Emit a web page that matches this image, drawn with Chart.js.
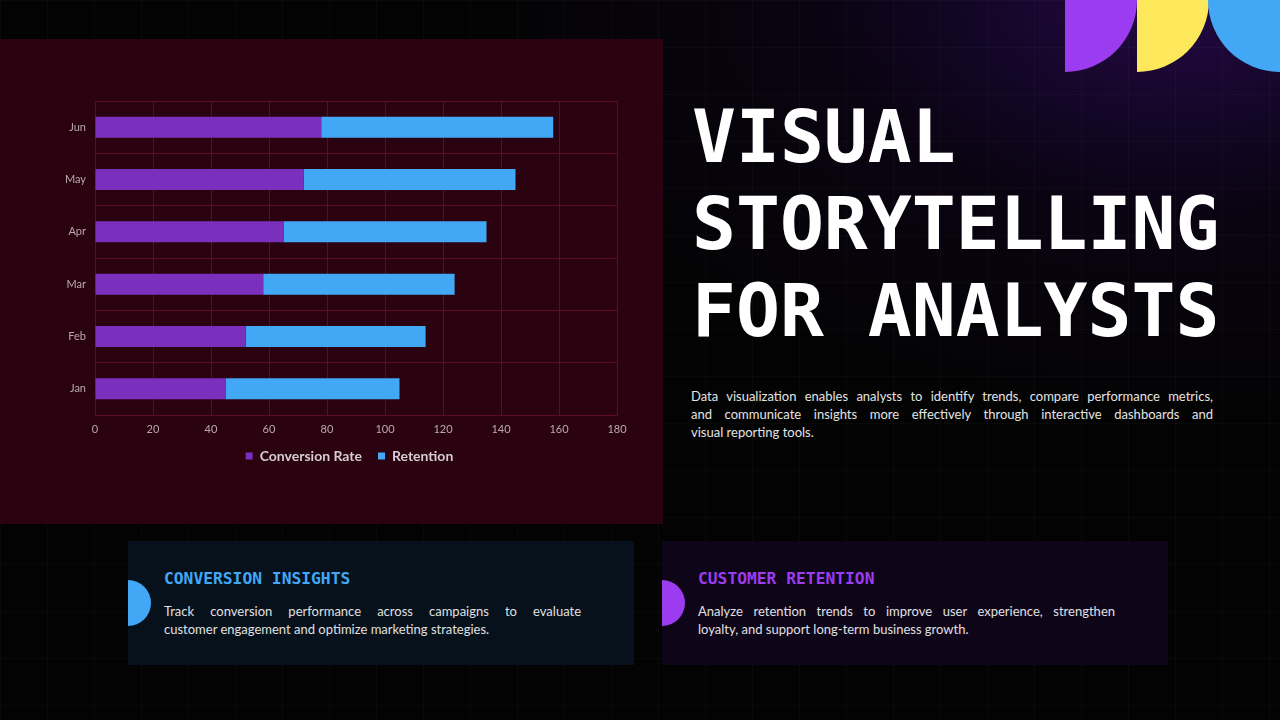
<!DOCTYPE html>
<html>
<head>
<meta charset="utf-8">
<script src="https://cdn.jsdelivr.net/npm/chart.js@4.4.0/dist/chart.umd.min.js"></script>
<style>
  html, body { margin: 0; padding: 0; }
  body {
    width: 1280px; height: 720px; overflow: hidden; position: relative;
    background:
      radial-gradient(ellipse 700px 420px at 1180px 0px, rgba(40, 10, 80, 0.85), rgba(20, 5, 40, 0.4) 50%, rgba(0,0,0,0) 100%),
      #030303;
    font-family: Lato, "Noto Sans", sans-serif;
  }
  .grid {
    position: absolute; inset: 0;
    background-image:
      linear-gradient(to right, rgba(255,255,255,0.025) 1px, transparent 1px),
      linear-gradient(to bottom, rgba(255,255,255,0.025) 1px, transparent 1px);
    background-size: 47px 47px;
  }
  .panel {
    position: absolute; left: 0; top: 39px; width: 663px; height: 485px;
    background: #2b0210;
  }
  .chart-box { position: absolute; left: 40px; top: 80px; width: 620px; height: 400px; }
  .shape { position: absolute; top: 0; width: 72px; height: 72px; }
  .s1 { left: 1065px; background: #9b3cf0; border-bottom-right-radius: 72px; }
  .s2 { left: 1137px; background: #fde85c; border-bottom-right-radius: 72px; }
  .s3 { left: 1208px; background: #42a8f5; border-bottom-left-radius: 72px; }
  .title {
    position: absolute; left: 692px; top: 93px;
    font-family: "DejaVu Sans Mono", monospace; font-weight: bold;
    font-size: 73px; line-height: 87px; color: #ffffff;
  }
  .para {
    position: absolute; left: 691px; top: 387px; width: 522px;
    font-size: 13px; line-height: 18px; color: #e4e4e4;
  }
  .para div, .card .txt div { text-align: justify; text-align-last: justify; }
  .para div.last, .card .txt div.last { text-align-last: left; }
  .card {
    position: absolute; top: 541px; width: 506px; height: 124px;
  }
  .card.c1 { left: 128px; background: #06111c; }
  .card.c2 { left: 662px; background: #0f0519; }
  .card .dot {
    position: absolute; left: 0; top: 39px; width: 23px; height: 46px;
    border-radius: 0 23px 23px 0;
  }
  .card .head {
    position: absolute; left: 36px; top: 28px;
    font-family: "DejaVu Sans Mono", monospace; font-weight: bold; font-size: 16.3px;
  }
  .card .txt {
    position: absolute; left: 36px; top: 61px; width: 417px;
    font-size: 13px; line-height: 18px; color: #e0e0e0;
  }
</style>
</head>
<body>
<div class="grid"></div>
<div class="panel"></div>
<div class="chart-box"><canvas id="graph"></canvas></div>

<div class="shape s1"></div>
<div class="shape s2"></div>
<div class="shape s3"></div>

<div class="title">VISUAL<br>STORYTELLING<br>FOR ANALYSTS</div>

<div class="para">
  <div>Data visualization enables analysts to identify trends, compare performance metrics,</div>
  <div>and communicate insights more effectively through interactive dashboards and</div>
  <div class="last">visual reporting tools.</div>
</div>

<div class="card c1">
  <div class="dot" style="background:#42a8f5"></div>
  <div class="head" style="color:#42a8f5">CONVERSION INSIGHTS</div>
  <div class="txt">
    <div>Track conversion performance across campaigns to evaluate</div>
    <div class="last">customer engagement and optimize marketing strategies.</div>
  </div>
</div>

<div class="card c2">
  <div class="dot" style="background:#9b3cf0"></div>
  <div class="head" style="color:#9b3cf0">CUSTOMER RETENTION</div>
  <div class="txt">
    <div>Analyze retention trends to improve user experience, strengthen</div>
    <div class="last">loyalty, and support long-term business growth.</div>
  </div>
</div>

<script>
const months = ["Jan", "Feb", "Mar", "Apr", "May", "Jun"];
const conversionRate = [45, 52, 58, 65, 72, 78];
const retention = [60, 62, 66, 70, 73, 80];
const xTicks = [0, 20, 40, 60, 80, 100, 120, 140, 160, 180];

const graphRef = document.getElementById("graph");
const gridColor = "#5c0c26";
const tickColor = "#b9a9b0";

const chart = new Chart(graphRef, {
    type: "bar",
    data: {
        labels: months,
        datasets: [
            {label: "Conversion Rate", data: conversionRate, backgroundColor: "#7b30bd"},
            {label: "Retention", data: retention, backgroundColor: "#42a8f5"},
        ],
    },
    options: {
        indexAxis: "y",
        responsive: true,
        maintainAspectRatio: false,
        animation: false,
        barPercentage: 0.5,
        categoryPercentage: 0.8,
        layout: {padding: {left: 0, right: 1, top: 21, bottom: 7}},
        scales: {
            x: {
                stacked: true,
                min: 0,
                max: 180,
                afterBuildTicks: (axis) => { axis.ticks = xTicks.map(v => ({value: v})); },
                afterFit: (axis) => { axis.height = 18; },
                grid: {color: gridColor, drawTicks: false},
                border: {color: gridColor},
                ticks: {color: tickColor, padding: 8, font: {family: "Lato", size: 11}},
            },
            y: {
                stacked: true,
                reverse: true,
                afterFit: (axis) => { axis.width = 55; },
                grid: {color: gridColor, drawTicks: false, offset: true},
                border: {color: gridColor},
                ticks: {color: tickColor, padding: 9, font: {family: "Lato", size: 11}},
            },
            // empty spacer on the right so the legend sits where the original one does
            side: {
                type: "category",
                position: "right",
                afterFit: (axis) => { axis.width = 42; },
                grid: {display: false},
                border: {display: false},
                ticks: {display: false},
            },
        },
        plugins: {
            legend: {
                position: "bottom",
                labels: {
                    color: "#d6cdd2",
                    boxWidth: 7,
                    boxHeight: 7,
                    padding: 16,
                    font: {family: "Lato", size: 14, weight: "bold"},
                },
            },
            tooltip: {enabled: false},
        },
    },
});
</script>
</body>
</html>
